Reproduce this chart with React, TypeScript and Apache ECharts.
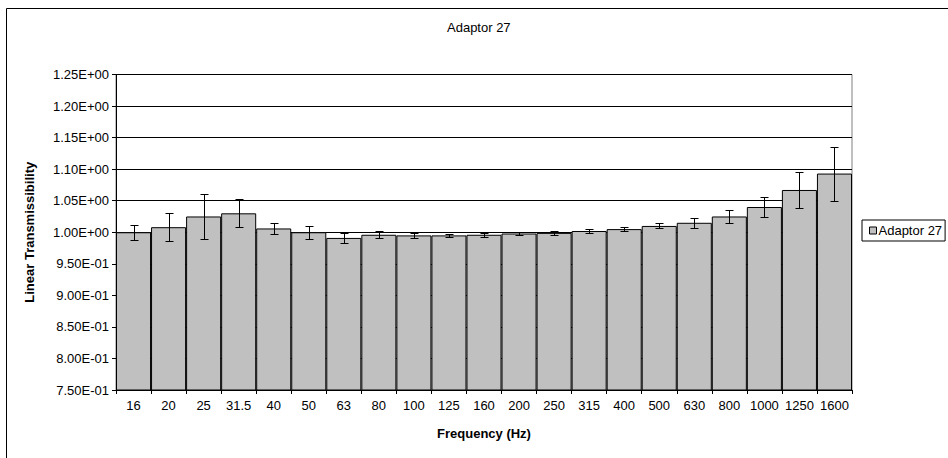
import React, { useEffect, useRef } from "react";
import * as echarts from "echarts";

const categories = ["16", "20", "25", "31.5", "40", "50", "63", "80", "100", "125", "160", "200", "250", "315", "400", "500", "630", "800", "1000", "1250", "1600"];
const values = [1.0, 1.008, 1.025, 1.03, 1.006, 1.0, 0.991, 0.996, 0.995, 0.995, 0.996, 0.998, 0.999, 1.002, 1.005, 1.01, 1.015, 1.025, 1.04, 1.067, 1.093];
const errors = [0.012, 0.022, 0.036, 0.022, 0.0085, 0.0105, 0.0084, 0.0053, 0.0042, 0.002, 0.003, 0.0024, 0.003, 0.003, 0.0034, 0.004, 0.0079, 0.011, 0.0163, 0.0282, 0.0427];
const seriesName = "Adaptor 27";
const titleText = "Adaptor 27";
const xAxisTitle = "Frequency (Hz)";
const yAxisTitle = "Linear Transmissibility";
const yMin = 0.75;
const yMax = 1.25;
const yStep = 0.05;

const FONT = "'Liberation Sans', Arial, sans-serif";

function sci(v: number): string {
  const s = v.toExponential(2);
  const [m, e] = s.split("e");
  const n = parseInt(e, 10);
  const sign = n < 0 ? "-" : "+";
  const abs = Math.abs(n);
  return m + "E" + sign + (abs < 10 ? "0" + abs : String(abs));
}

export default function App() {
  const ref = useRef<HTMLDivElement>(null);
  useEffect(() => {
    document.body.style.margin = "0";
    if (!ref.current) return;
    const chart = echarts.init(ref.current, null, { renderer: "svg" });
    const errData = values.map((v, i) => [i, v - errors[i], v + errors[i]]);
    chart.setOption({
      animation: false,
      backgroundColor: "#fff",
      textStyle: { fontFamily: FONT },
      title: {
        text: titleText,
        left: 447,
        top: 21,
        padding: 0,
        textStyle: { fontFamily: FONT, fontSize: 13, fontWeight: "normal", color: "#000" },
      },
      legend: {
        data: [seriesName],
        left: 862,
        top: 220,
        orient: "vertical",
        padding: [4, 3, 4, 7],
        borderColor: "#000",
        borderWidth: 1,
        borderRadius: 0,
        itemWidth: 7,
        itemHeight: 7,
        icon: "rect",
        itemStyle: { color: "#C0C0C0", borderColor: "#000", borderWidth: 1 },
        textStyle: { fontFamily: FONT, fontSize: 13, color: "#000", padding: [0, 0, 0, -3] },
      },
      grid: {
        left: 116,
        right: 96,
        top: 74.5,
        bottom: 68,
        show: true,
        borderColor: "#808080",
        borderWidth: 1,
        backgroundColor: "transparent",
      },
      xAxis: {
        type: "category",
        data: categories,
        name: xAxisTitle,
        nameLocation: "middle",
        nameGap: 37,
        nameTextStyle: { fontFamily: FONT, fontSize: 13, fontWeight: "bold", color: "#000" },
        axisLine: { lineStyle: { color: "#000", width: 1 } },
        axisTick: { show: true, length: 4, lineStyle: { color: "#000" } },
        axisLabel: { fontFamily: FONT, fontSize: 13, color: "#000", margin: 9, interval: 0 },
      },
      yAxis: {
        type: "value",
        min: yMin,
        max: yMax,
        interval: yStep,
        name: yAxisTitle,
        nameLocation: "middle",
        nameGap: 80,
        nameTextStyle: { fontFamily: FONT, fontSize: 13, fontWeight: "bold", color: "#000" },
        axisLine: { show: true, lineStyle: { color: "#000", width: 1 } },
        axisTick: { show: true, length: 4, lineStyle: { color: "#000" } },
        axisLabel: { fontFamily: FONT, fontSize: 13, color: "#000", margin: 7, formatter: (v: number) => sci(v) },
        splitLine: { show: true, lineStyle: { color: "#000", width: 1 } },
      },
      graphic: [
        {
          type: "rect",
          shape: { x: 6.5, y: 8.5, width: 1000, height: 1000 },
          style: { fill: "none", stroke: "#000", lineWidth: 1 },
          silent: true,
          z: -10,
        },
      ],
      series: [
        {
          name: seriesName,
          type: "bar",
          data: values,
          barCategoryGap: "0%",
          itemStyle: { color: "#C0C0C0", borderColor: "#000", borderWidth: 1 },
        },
        {
          name: "err",
          type: "custom",
          data: errData,
          z: 10,
          renderItem: (params: any, api: any) => {
            const idx = api.value(0);
            const lo = api.coord([idx, api.value(1)]);
            const hi = api.coord([idx, api.value(2)]);
            const x = Math.round(lo[0]) + 0.5;
            const y1 = Math.round(lo[1]) + 0.5;
            const y2 = Math.round(hi[1]) + 0.5;
            const half = 4;
            const st = { stroke: "#000", lineWidth: 1 };
            return {
              type: "group",
              children: [
                { type: "line", shape: { x1: x, y1: y1, x2: x, y2: y2 }, style: st },
                { type: "line", shape: { x1: x - half, y1: y1, x2: x + half, y2: y1 }, style: st },
                { type: "line", shape: { x1: x - half, y1: y2, x2: x + half, y2: y2 }, style: st },
              ],
            };
          },
        },
      ],
    });
    return () => chart.dispose();
  }, []);
  return <div ref={ref} style={{ width: 948, height: 458 }} />;
}
